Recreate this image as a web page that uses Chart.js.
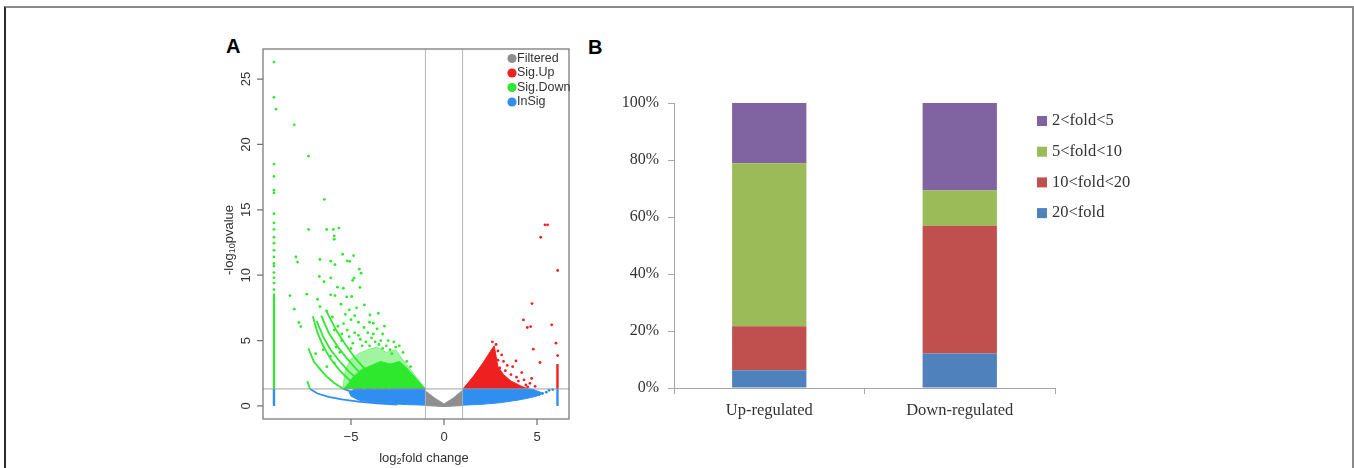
<!DOCTYPE html>
<html>
<head>
<meta charset="utf-8">
<script src="https://cdn.jsdelivr.net/npm/chart.js@4.4.1/dist/chart.umd.min.js"></script>
<style>
  html, body { margin: 0; padding: 0; background: #fff; }
  body { width: 1354px; height: 468px; position: relative; overflow: hidden; }
  .frame { position: absolute; left: 4px; top: 6px; width: 1346px; height: 600px;
    border-top: 2px solid #8a8a8a; border-left: 2px solid #2a2a2a; border-right: 2px solid #8a8a8a; }
  .tag { position: absolute; font: bold 20px/20px "Liberation Sans", Arial, sans-serif; color: #000; }
  #volcano { position: absolute; left: 200px; top: 30px; }
  #bars { position: absolute; left: 580px; top: 30px; }
</style>
</head>
<body>
<div class="frame"></div>
<div class="tag" style="left:226px;top:36px">A</div>
<div class="tag" style="left:588px;top:37px">B</div>
<canvas id="volcano" width="390" height="438"></canvas>
<canvas id="bars" width="600" height="438"></canvas>
<script>
// ---- panel A: volcano plot ----
var xRange = [-9.73, 6.72];
var yRange = [-1.0, 27.3];
var xTicks = [-5, 0, 5];
var yTicks = [0, 5, 10, 15, 20, 25];
var refX = [-1, 1];
var refY = 1.3; // -log10(0.05)

var groupNames = ['Filtered', 'Sig.Up', 'Sig.Down', 'InSig'];
var groupColors = ['#8f8f8f', '#ee2020', '#2ee82e', '#2f8ff0'];

// dense clouds, outlined
var filteredZone = [[-1.0,1.15],[-0.5,0.6],[0,0.15],[0.5,0.6],[1.0,1.2],[1.0,0.03],[0,-0.05],[-1.0,0.03]];
var insigLeftZone = [[-1.0,1.3],[-4.8,1.3],[-5.1,1.05],[-5.0,0.75],[-4.6,0.45],[-4.0,0.3],[-3.0,0.18],[-2.0,0.1],[-1.0,0.06]];
var insigRightZone = [[1.0,1.3],[4.7,1.3],[5.0,1.15],[5.3,0.98],[5.1,0.8],[4.6,0.62],[4.0,0.45],[3.0,0.24],[2.0,0.12],[1.0,0.06]];
var downCore = [[-1.0,1.3],[-1.5,2.1],[-2.0,2.9],[-2.4,3.4],[-2.9,3.2],[-3.4,3.4],[-3.9,3.1],[-4.4,2.8],[-4.9,2.2],[-5.2,1.6],[-5.4,1.3]];
var downHalo = [[-1.0,1.3],[-1.7,2.6],[-2.3,3.7],[-2.6,4.3],[-3.1,4.1],[-3.6,4.5],[-4.1,4.3],[-4.6,4.0],[-5.0,3.6],[-5.3,2.8],[-5.45,1.3]];
var upCore = [[1.02,1.3],[1.6,2.3],[2.1,3.3],[2.55,4.3],[2.7,4.6],[2.8,3.8],[2.9,3.0],[3.2,2.4],[3.6,1.9],[4.1,1.55],[4.5,1.3]];

// streaks of low-count genes, upper left to lower right
var downStreaks = [
  [[-7.35,1.9],[-7.2,1.3],[-6.8,0.95],[-6.2,0.7],[-5.5,0.5],[-4.6,0.33],[-3.6,0.2],[-2.5,0.1]],
  [[-7.29,4.41],[-7.0,3.4],[-6.6,2.7],[-6.3,2.24],[-5.9,1.75],[-5.4,1.3],[-4.8,1.0],[-4.0,0.7],[-3.0,0.45],[-2.0,0.27]],
  [[-7.05,6.85],[-6.8,5.6],[-6.5,4.6],[-6.1,3.6],[-5.6,2.7],[-5.1,2.0],[-4.6,1.55],[-4.2,1.3],[-3.5,1.0],[-2.5,0.7]],
  [[-6.85,6.5],[-6.5,5.3],[-6.1,4.3],[-5.6,3.4],[-5.1,2.6],[-4.6,2.0],[-4.1,1.6],[-3.7,1.3]],
  [[-6.6,6.9],[-6.2,5.6],[-5.7,4.5],[-5.2,3.6],[-4.7,2.8],[-4.2,2.2],[-3.7,1.7],[-3.3,1.3]],
  [[-6.3,7.2],[-5.8,5.8],[-5.3,4.7],[-4.8,3.7],[-4.3,2.9],[-3.8,2.2],[-3.3,1.7],[-2.9,1.3]]
];

// single genes
var downPoints = [[-9.03,22.7],[-8.05,21.5],[-7.28,19.1],[-6.43,15.8],[-7.28,13.5],[-6.31,13.5],[-5.95,13.5],
  [-5.9,13.0],[-5.9,12.75],[-5.65,13.6],[-7.96,11.4],[-7.87,11.0],[-6.67,11.2],[-5.45,11.6],[-4.86,11.5],
  [-5.2,11.1],[-5.07,11.05],[-6.09,11.07],[-5.86,10.8],[-4.55,10.46],[-4.46,10.15],[-8.28,8.44],[-7.38,8.55],
  [-8.05,7.4],[-7.8,6.38],[-7.7,6.07],[-6.7,9.9],[-6.45,9.5],[-6.09,9.8],[-6.8,8.16],[-5.73,9.08],[-5.41,9.0],
  [-5.23,8.34],[-4.96,8.37],[-4.52,9.06],[-4.91,9.6],[-4.84,9.77],[-6.09,8.5],[-5.86,8.44],[-6.67,7.6],
  [-6.31,7.27],[-5.54,7.78],[-5.09,7.35],[-4.28,7.73],[-3.98,6.96],[-3.8,6.33],[-3.53,7.09],[-4.8,6.9],
  [-4.6,6.4],[-5.0,6.6],[-5.4,6.3],[-5.7,6.1],[-5.9,5.8],[-4.3,6.0],[-4.1,5.6],[-3.6,5.9],[-3.3,5.5],
  [-3.0,5.0],[-2.7,4.9],[-2.4,4.6],[-3.9,5.2],[-4.6,5.4],[-5.1,5.3],[-5.5,5.0],[-4.9,4.8],[-4.4,4.6],
  [-3.5,4.7],[-6.0,6.8],[-5.3,7.0],[-4.0,6.4],[-3.2,6.1],[-4.7,7.5],[-3.7,4.9],[-2.9,4.3],[-2.2,4.1],
  [-6.5,4.3],[-6.9,4.0],[-5.8,4.5],[-6.1,3.8],[-2.6,4.5],[-3.1,4.6],[-3.4,5.0],[-4.2,4.9],[-4.5,5.1],
  [-4.8,5.6],[-5.2,5.8],[-5.5,5.5],[-3.8,5.5],[-2.8,4.0],[-2.0,3.4],[-1.8,3.0],[-4.0,4.6],[-5.6,4.1],
  [-5.9,3.3],[-6.3,3.0],[-5.0,4.4],[-3.3,4.4]];
var upPoints = [[5.43,13.85],[5.57,13.85],[5.2,12.9],[6.11,10.36],[4.73,7.83],[4.27,6.58],[4.48,6.0],[4.66,6.07],
  [5.79,6.2],[6.02,4.8],[4.8,4.34],[6.11,3.85],[5.16,3.32],[3.87,3.44],[3.69,3.0],[4.18,2.55],[4.62,1.73],
  [4.71,2.1],[2.8,4.7],[2.9,4.2],[3.1,3.9],[3.2,3.4],[3.4,3.1],[3.3,2.7],[3.6,2.4],[3.9,2.2],[4.0,1.9],
  [4.3,2.0],[4.4,1.6],[3.0,2.9],[2.9,3.5],[3.5,1.8],[3.8,1.5],[4.5,1.45],[4.9,1.5],[2.6,4.9],[3.3,2.0]];
var insigPoints = [[5.3,0.95],[5.5,1.05],[5.65,1.2],[5.1,0.85],[5.85,1.25]];

// genes piled at the fold-change limits
var leftEdgeX = -9.14;
var leftEdgeDots = [26.3,23.6,18.5,17.55,16.5,16.3,14.7,14.0,13.5,12.9,12.45,11.9,11.4,10.9,10.7,10.2,9.8,9.4,8.9];
var leftEdgeDownTop = 8.6;
var rightEdgeX = 6.1;
var rightEdgeUpTop = 3.2;

// ---- panel B: fold bins ----
var groups = ['Up-regulated', 'Down-regulated'];
var foldBins = ['2<fold<5', '5<fold<10', '10<fold<20', '20<fold'];
var binColors = ['#8064a2', '#9bbb59', '#c0504d', '#4f81bd'];
var upShares = [21.1, 57.2, 15.5, 6.2];
var downShares = [30.7, 12.4, 44.8, 12.1];
var percentTicks = [0, 20, 40, 60, 80, 100];

function pts(list){
  return list.map(function(p){ return {x: p[0], y: p[1]}; });
}

function zoneSet(list, color, order){
  return {data: pts(list), showLine: true, fill: 'shape', backgroundColor: color, borderColor: color,
    borderWidth: 1, pointRadius: 0, order: order || 5};
}

function lineSet(list, color, width, order){
  return {data: pts(list), showLine: true, fill: false, borderColor: color, borderWidth: width,
    pointRadius: 0, order: order};
}

function dotSet(list, color){
  return {data: pts(list), showLine: false, pointRadius: 1.4, pointBorderWidth: 0,
    backgroundColor: color, borderColor: color, order: 2};
}

var grey = groupColors[0], red = groupColors[1], green = groupColors[2], blue = groupColors[3];
var volcanoSets = [];

volcanoSets.push(zoneSet(insigLeftZone, blue));
volcanoSets.push(zoneSet(insigRightZone, blue));
volcanoSets.push(zoneSet(filteredZone, grey));
volcanoSets.push(zoneSet(downHalo, 'rgba(46,232,46,0.45)', 6));
volcanoSets.push(zoneSet(downCore, green));
volcanoSets.push(zoneSet(upCore, red));

// split each streak at the significance line
downStreaks.forEach(function(s){
  var hi = s.filter(function(p){ return p[1] >= refY; });
  var lo = s.filter(function(p){ return p[1] <= refY; });
  volcanoSets.push(lineSet(hi, green, 1.8, 3));
  volcanoSets.push(lineSet(lo, blue, 1.8, 3));
});

volcanoSets.push(lineSet([[leftEdgeX, 0], [leftEdgeX, refY]], blue, 2.4, 3));
volcanoSets.push(lineSet([[leftEdgeX, refY], [leftEdgeX, leftEdgeDownTop]], green, 2.2, 3));
volcanoSets.push(dotSet(leftEdgeDots.map(function(y){ return [leftEdgeX, y]; }), green));
volcanoSets.push(lineSet([[rightEdgeX, 0], [rightEdgeX, refY]], blue, 2.4, 3));
volcanoSets.push(lineSet([[rightEdgeX, refY], [rightEdgeX, rightEdgeUpTop]], red, 2.4, 3));

volcanoSets.push(dotSet(downPoints, green));
volcanoSets.push(dotSet(upPoints, red));
volcanoSets.push(dotSet(insigPoints, blue));

// cut-off lines on top
refX.forEach(function(v){
  volcanoSets.push(lineSet([[v, yRange[0]], [v, yRange[1]]], 'rgba(175,175,175,0.9)', 1, 0));
});
volcanoSets.push(lineSet([[xRange[0], refY], [xRange[1], refY]], 'rgba(150,150,150,0.9)', 1, 0));

// text with a subscript part, centred on (x, y)
function drawParts(ctx, parts, x, y, size){
  var widths = parts.map(function(p){
    ctx.font = (p.sub ? size * 0.7 : size) + 'px "Liberation Sans", Arial, sans-serif';
    return ctx.measureText(p.t).width;
  });
  var total = widths.reduce(function(a, b){ return a + b; }, 0);
  var cx = x - total / 2;
  ctx.textAlign = 'left';
  ctx.textBaseline = 'middle';
  parts.forEach(function(p, i){
    ctx.font = (p.sub ? size * 0.7 : size) + 'px "Liberation Sans", Arial, sans-serif';
    ctx.fillText(p.t, cx, p.sub ? y + size * 0.3 : y);
    cx += widths[i];
  });
}

var volcanoFrame = {
  id: 'volcanoFrame',
  afterDraw: function(chart){
    var ctx = chart.ctx, a = chart.chartArea;
    var xs = chart.scales.x, ys = chart.scales.y;
    ctx.save();
    ctx.strokeStyle = '#707070';
    ctx.lineWidth = 1.2;
    ctx.strokeRect(a.left, a.top, a.right - a.left, a.bottom - a.top);

    ctx.beginPath();
    xTicks.forEach(function(v){
      var px = xs.getPixelForValue(v);
      ctx.moveTo(px, a.bottom); ctx.lineTo(px, a.bottom + 6);
    });
    yTicks.forEach(function(v){
      var py = ys.getPixelForValue(v);
      ctx.moveTo(a.left, py); ctx.lineTo(a.left - 6, py);
    });
    ctx.stroke();

    ctx.fillStyle = '#333';
    ctx.font = '13px "Liberation Sans", Arial, sans-serif';
    ctx.textAlign = 'center';
    ctx.textBaseline = 'middle';
    xTicks.forEach(function(v){
      ctx.fillText(v < 0 ? '\u2212' + (-v) : String(v), xs.getPixelForValue(v), a.bottom + 18);
    });
    yTicks.forEach(function(v){
      ctx.save();
      ctx.translate(a.left - 17, ys.getPixelForValue(v));
      ctx.rotate(-Math.PI / 2);
      ctx.fillText(String(v), 0, 0);
      ctx.restore();
    });

    // axis titles
    drawParts(ctx, [{t: 'log'}, {t: '2', sub: true}, {t: 'fold change'}], 224, a.bottom + 39, 13);
    ctx.save();
    ctx.translate(a.left - 34, 210);
    ctx.rotate(-Math.PI / 2);
    drawParts(ctx, [{t: '-log'}, {t: '10', sub: true}, {t: 'pvalue'}], 0, 0, 13);
    ctx.restore();

    // legend
    groupNames.forEach(function(name, i){
      var ly = a.top + 9.5 + i * 14.5;
      ctx.beginPath();
      ctx.fillStyle = groupColors[i];
      ctx.arc(a.right - 57, ly, 4.6, 0, Math.PI * 2);
      ctx.fill();
      ctx.fillStyle = '#333';
      ctx.font = '12.5px "Liberation Sans", Arial, sans-serif';
      ctx.textAlign = 'left';
      ctx.fillText(name, a.right - 52, ly);
    });
    ctx.restore();
  }
};

var volcanoChart = new Chart(document.getElementById('volcano'), {
  type: 'scatter',
  data: {datasets: volcanoSets},
  options: {
    responsive: false,
    animation: false,
    layout: {padding: {top: 19, right: 21, left: 0, bottom: 0}},
    plugins: {legend: {display: false}, tooltip: {enabled: false}},
    scales: {
      x: {type: 'linear', min: xRange[0], max: xRange[1], grid: {display: false}, border: {display: false},
        ticks: {display: false}, afterFit: function(s){ s.height = 49; }},
      y: {type: 'linear', min: yRange[0], max: yRange[1], grid: {display: false}, border: {display: false},
        ticks: {display: false}, afterFit: function(s){ s.width = 63; }}
    }
  },
  plugins: [volcanoFrame]
});

// ---- panel B chart ----
var serif = '"Liberation Serif", "Times New Roman", serif';

var binLegend = {
  id: 'binLegend',
  afterDraw: function(chart){
    var ctx = chart.ctx, a = chart.chartArea;
    ctx.save();
    ctx.font = '16.5px ' + serif;
    ctx.textAlign = 'left';
    ctx.textBaseline = 'middle';
    foldBins.forEach(function(name, i){
      var ly = 91 + i * 30.7;
      ctx.fillStyle = binColors[i];
      ctx.fillRect(a.right - 18, ly - 5, 10, 10);
      ctx.fillStyle = '#333';
      ctx.fillText(name, a.right - 3, ly);
    });
    ctx.restore();
  }
};

var barSets = [];
for (var i = foldBins.length - 1; i >= 0; i--) {
  barSets.push({
    label: foldBins[i],
    data: [upShares[i], downShares[i]],
    backgroundColor: binColors[i],
    borderWidth: 0,
    barPercentage: 0.39,
    categoryPercentage: 1
  });
}

var barChart = new Chart(document.getElementById('bars'), {
  type: 'bar',
  data: {labels: groups, datasets: barSets},
  options: {
    responsive: false,
    animation: false,
    layout: {padding: {top: 73, right: 125, left: 0, bottom: 0}},
    plugins: {legend: {display: false}, tooltip: {enabled: false}},
    scales: {
      x: {stacked: true,
        grid: {display: true, drawOnChartArea: false, offset: true, tickLength: 6, color: '#a6a6a6'},
        border: {color: '#a6a6a6'},
        ticks: {font: {family: serif, size: 16.5}, color: '#333', padding: 7},
        afterFit: function(s){ s.height = 80; }},
      y: {stacked: true, min: 0, max: 100,
        afterBuildTicks: function(s){ s.ticks = percentTicks.map(function(v){ return {value: v}; }); },
        grid: {drawOnChartArea: false, tickLength: 6, color: '#a6a6a6'},
        border: {color: '#a6a6a6'},
        ticks: {font: {family: serif, size: 16}, color: '#333', padding: 9,
          callback: function(v){ return v + '%'; }},
        afterFit: function(s){ s.width = 94; }}
    }
  },
  plugins: [binLegend]
});
</script>
</body>
</html>
